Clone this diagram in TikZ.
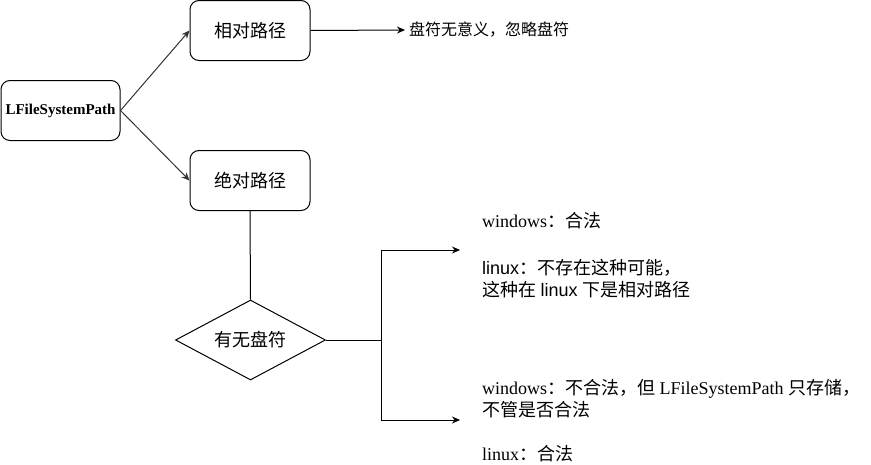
\documentclass[tikz,border=0pt]{standalone}
\usepackage{fontspec}
\setmainfont{Liberation Serif}
\setsansfont{Liberation Sans}
\newfontfamily\cjk{Noto Sans CJK SC}
\usetikzlibrary{arrows.meta,shapes.geometric}

\tikzstyle{myarrow}=[-{Stealth[length=8pt,width=7pt]}, line width=1pt]
\tikzstyle{line}=[-, line width=1pt]
\tikzstyle{pathbox}=[rectangle, draw, line width=1pt, rounded corners=9pt, minimum width=120pt, minimum height=60pt, inner sep=0pt, font=\cjk\fontsize{18}{22}\selectfont]
\tikzstyle{decision}=[diamond, draw, line width=1pt, aspect=2, minimum width=150pt, minimum height=80pt, inner sep=0pt, font=\cjk\fontsize{18}{22}\selectfont]
\tikzstyle{note}=[anchor=west, align=left, inner ysep=0pt, font=\fontsize{18}{22}\selectfont]

\begin{document}
\begin{tikzpicture}[x=1pt, y=-1pt]
		    \useasboundingbox (0,0) rectangle (871,464);
		    \node (file path) at (60.5, 110.5) [pathbox, minimum width=119pt, font=\bfseries\fontsize{15}{18}\selectfont] {LFileSystemPath};
		    \node (relative path) at (250, 30.5) [pathbox] {相对路径};
		    \node (absolute path) at (250, 180.5) [pathbox] {绝对路径};
		    \node (drive letter) at (250.5, 340) [decision] {有无盘符};
		    
			\node (ignore note) at (405, 30) [note, inner xsep=4pt, font=\cjk\fontsize{16}{20}\selectfont] {盘符无意义，忽略盘符};
			\node (with letter) at (460, 255) [note, inner xsep=22pt] {windows{\cjk：合法}\\[25pt] {\sffamily linux}{\cjk：不存在这种可能，}\\ {\cjk 这种在} {\sffamily linux} {\cjk 下是相对路径}};
			\node (without letter) at (460, 420.5) [note, inner xsep=22pt] {windows{\cjk：不合法，但} LFileSystemPath {\cjk 只存储，}\\ {\cjk 不管是否合法}\\[22pt] linux{\cjk：合法}};
			
			\draw[myarrow, black!80] (file path.east) -- (relative path.west);
			\draw[myarrow, black!80] (file path.east) -- (absolute path.west);
			\draw[myarrow] (relative path.east) -- (ignore note.west);
			\draw[line] (absolute path.south) -- (drive letter.north);
			\draw[myarrow] (drive letter.east) -- ++(55,0) |- ([yshift=5pt]with letter.west);
			\draw[myarrow] (drive letter.east) -- ++(55,0) |- ([yshift=0.5pt]without letter.west);
		\end{tikzpicture}
\end{document}
